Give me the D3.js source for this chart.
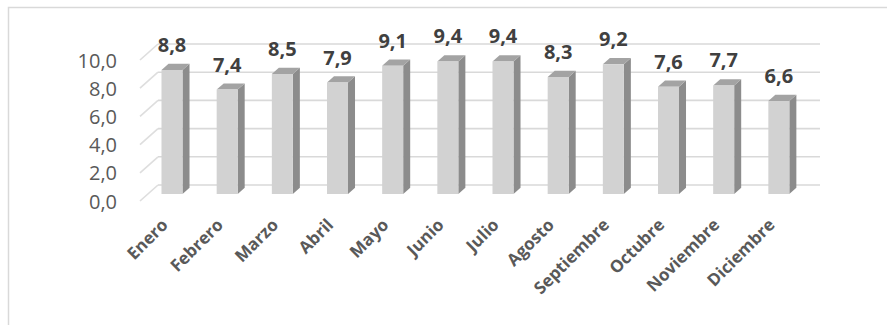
<!DOCTYPE html>
<html>
<head>
<meta charset="utf-8">
<script src="https://cdn.jsdelivr.net/npm/d3@7/dist/d3.min.js"></script>
<style>
  html, body { margin: 0; padding: 0; background: #fff; }
  svg { display: block; }
  text { font-family: "Open Sans", "Noto Sans", sans-serif; }
</style>
</head>
<body>
<svg id="chart" width="887" height="325"></svg>
<script>
// Monthly values shown as 3D columns
const months = ["Enero", "Febrero", "Marzo", "Abril", "Mayo", "Junio",
                "Julio", "Agosto", "Septiembre", "Octubre", "Noviembre", "Diciembre"];
const values = [8.8, 7.4, 8.5, 7.9, 9.1, 9.4, 9.4, 8.3, 9.2, 7.6, 7.7, 6.6];
const yTicks = [0, 2, 4, 6, 8, 10];

const svg = d3.select("#chart");
const fmt = v => d3.format(".1f")(v).replace(".", ",");

// Chart area frame
svg.append("rect")
  .attr("x", 8.5).attr("y", 7.5)
  .attr("width", 900).attr("height", 400)
  .attr("fill", "#fff")
  .attr("stroke", "#d9d9d9").attr("stroke-width", 1.5);

// Front plane scales; depth is an oblique offset toward the back wall
const x = d3.scaleBand().domain(months).range([140, 802]);
const y = d3.scaleLinear().domain([0, 10]).range([201, 60]);
const DX = 18, DY = -16;
const P = (px, v, d) => [px + d * DX, y(v) + d * DY];

// Back wall gridlines and the side-wall diagonals
const grid = svg.append("g");
yTicks.forEach(t => {
  const b0 = P(140, t, 1), b1 = P(802, t, 1), f0 = P(140, t, 0);
  grid.append("line")
    .attr("x1", b0[0]).attr("y1", b0[1]).attr("x2", b1[0]).attr("y2", b1[1])
    .attr("stroke", "#d9d9d9").attr("stroke-width", 1.6);
  grid.append("line")
    .attr("x1", f0[0]).attr("y1", f0[1]).attr("x2", b0[0]).attr("y2", b0[1])
    .attr("stroke", "#dedede").attr("stroke-width", 1.6);
});

// Value axis labels
svg.append("g").selectAll("text").data(yTicks).join("text")
  .attr("x", 117).attr("y", d => y(d))
  .attr("text-anchor", "end").attr("dominant-baseline", "central")
  .attr("font-size", 20).attr("fill", "#595959")
  .text(d => fmt(d));

// Columns: front face, right side face, top face
const D1 = 0.44, D2 = 0.83;
const faceW = 21;
const bars = svg.append("g").selectAll("g").data(months).join("g");
bars.each(function (m, i) {
  const g = d3.select(this);
  const c = x(m) + x.bandwidth() / 2;
  const L = c - 14, R = L + faceW, v = values[i];
  const poly = pts => pts.map(p => p.join(",")).join(" ");
  g.append("polygon")
    .attr("points", poly([P(R, v, D1), P(R, v, D2), P(R, 0, D2), P(R, 0, D1)]))
    .attr("fill", "#8c8c8c");
  g.append("polygon")
    .attr("points", poly([P(L, v, D1), P(R, v, D1), P(R, v, D2), P(L, v, D2)]))
    .attr("fill", "#a3a3a3");
  g.append("polygon")
    .attr("points", poly([P(L, v, D1), P(R, v, D1), P(R, 0, D1), P(L, 0, D1)]))
    .attr("fill", "#d2d2d2");
  const top = P(L + faceW / 2, v, D1);
  g.append("text")
    .attr("x", top[0]).attr("y", top[1] - 18)
    .attr("text-anchor", "middle")
    .attr("font-size", 20).attr("font-weight", "bold").attr("fill", "#404040")
    .text(fmt(v));
});

// Category labels, rotated
svg.append("g").selectAll("text").data(months).join("text")
  .attr("transform", m => {
    const c = x(m) + x.bandwidth() / 2 - 3.5 + D1 * DX;
    return `translate(${c - 3},${226}) rotate(-45)`;
  })
  .attr("text-anchor", "end")
  .attr("font-size", 17).attr("font-weight", "bold").attr("fill", "#595959")
  .text(m => m);
</script>
</body>
</html>
